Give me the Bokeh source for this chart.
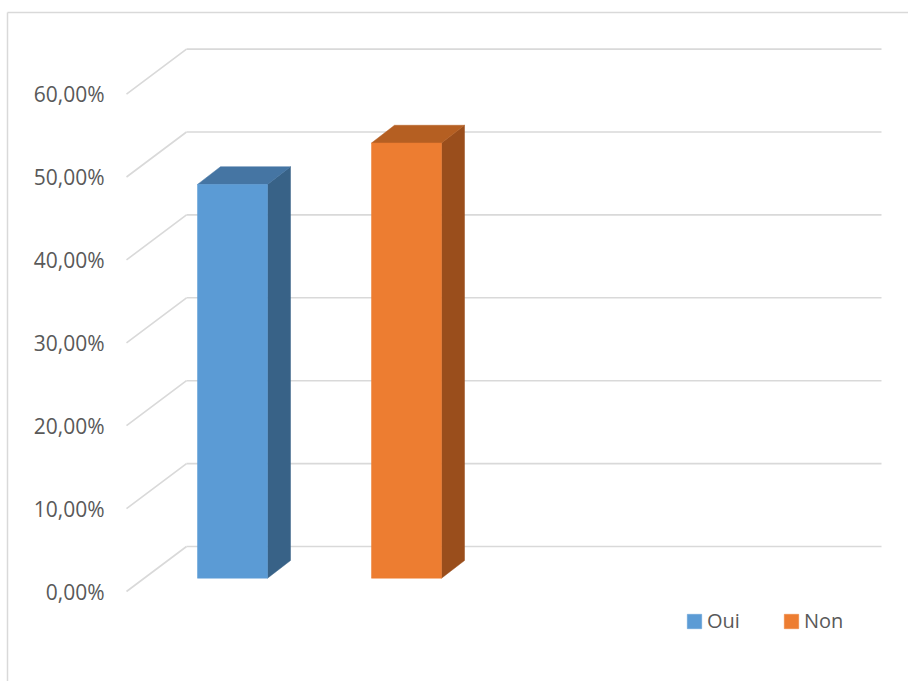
from bokeh.plotting import figure
from bokeh.models import ColumnDataSource, Legend, LegendItem
from bokeh.core.properties import value
from bokeh.embed import file_html
from bokeh.resources import INLINE

# ---- data ----
series = ["Oui", "Non"]
values = [47.5, 52.5]
front_colors = ["#5B9BD5", "#ED7D31"]
top_colors = ["#4575A3", "#B55F22"]
side_colors = ["#386287", "#9A4E1C"]
ticks = [0, 10, 20, 30, 40, 50, 60]
tick_labels = ["0,00%", "10,00%", "20,00%", "30,00%", "40,00%", "50,00%", "60,00%"]

# ---- layout (pixel geometry of the 3D projection) ----
W, H = 908, 681
PX_PER_UNIT = 8.29
Y0_PX = 591.0                      # screen y of value 0 on the front plane
def yv(py):                        # screen px -> value units
    return (Y0_PX - py) / PX_PER_UNIT

WALL_X0, WALL_X1 = 126, 881
WALL_DX, WALL_DY = 60, 45 / PX_PER_UNIT
BAR_X0, BAR_STEP, BAR_W = 197, 174, 70
BAR_BASE = 13.3 / PX_PER_UNIT
BAR_DX, BAR_DY = 23, 17.7 / PX_PER_UNIT

p = figure(width=W, height=H, x_range=(0, W), y_range=(yv(H), yv(0)),
           min_border=0, toolbar_location=None, output_backend="svg",
           x_axis_location=None, y_axis_location=None)
p.grid.visible = False
p.outline_line_color = None
p.background_fill_color = "white"
p.border_fill_color = "white"

# chart border
p.segment(x0=[7, 7], y0=[yv(12), yv(12)], x1=[W + 5, 7], y1=[yv(12), yv(H + 5)],
          line_color="#D9D9D9", line_width=1.5)

# gridlines: side slant + back wall
p.segment(x0=[WALL_X0] * len(ticks), y0=ticks,
          x1=[WALL_X0 + WALL_DX] * len(ticks), y1=[t + WALL_DY for t in ticks],
          line_color="#D9D9D9", line_width=1.6)
p.segment(x0=[WALL_X0 + WALL_DX] * len(ticks), y0=[t + WALL_DY for t in ticks],
          x1=[WALL_X1] * len(ticks), y1=[t + WALL_DY for t in ticks],
          line_color="#D9D9D9", line_width=1.6)

# tick labels
p.text(x=[104] * len(ticks), y=ticks, text=tick_labels, text_align="right",
       text_baseline="middle", text_font=value("Open Sans"), text_font_size="21px",
       text_color="#595959")

# bars
lefts = [BAR_X0 + i * BAR_STEP for i in range(len(series))]
rights = [l + BAR_W for l in lefts]
bottoms = [BAR_BASE] * len(series)
tops = [BAR_BASE + v for v in values]

side_xs, side_ys, top_xs, top_ys = [], [], [], []
for l, r, b, t in zip(lefts, rights, bottoms, tops):
    side_xs.append([r, r + BAR_DX, r + BAR_DX, r])
    side_ys.append([b, b + BAR_DY, t + BAR_DY, t])
    top_xs.append([l, r, r + BAR_DX, l + BAR_DX])
    top_ys.append([t, t, t + BAR_DY, t + BAR_DY])

src = ColumnDataSource(dict(left=lefts, right=rights, bottom=bottoms, top=tops,
                            color=front_colors, label=series))
p.patches(xs=side_xs, ys=side_ys, fill_color=side_colors, line_color=side_colors, line_width=0.5)
p.patches(xs=top_xs, ys=top_ys, fill_color=top_colors, line_color=top_colors, line_width=0.5)
front = p.quad(left="left", right="right", bottom="bottom", top="top", source=src,
               fill_color="color", line_color="color", line_width=0.5)

legend = Legend(items=[LegendItem(label=s, renderers=[front], index=i) for i, s in enumerate(series)],
                orientation="horizontal", location=(685, 47), padding=0, margin=0,
                spacing=42, glyph_width=18, glyph_height=18, label_standoff=4,
                label_text_font="Open Sans", label_text_font_size="20px",
                label_text_color="#595959", border_line_color=None,
                background_fill_alpha=0)
p.add_layout(legend)

open("out.html", "w").write(file_html(p, INLINE))
